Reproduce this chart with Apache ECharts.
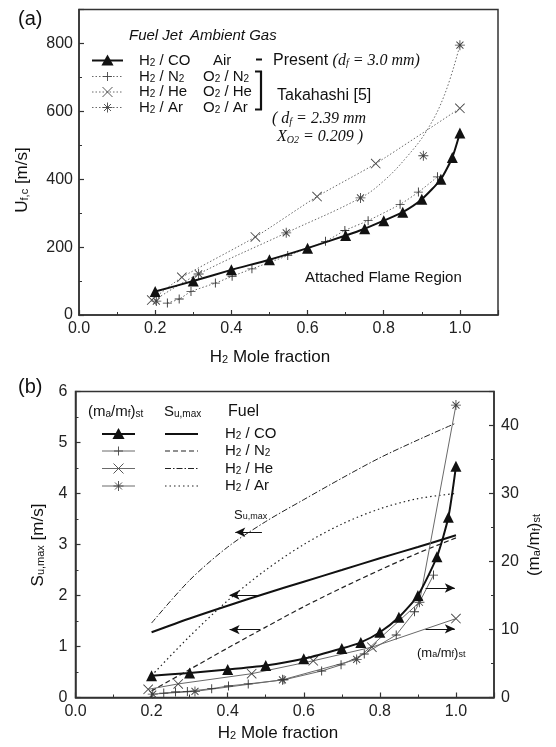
<!DOCTYPE html>
<html><head><meta charset="utf-8">
<script src="https://cdn.jsdelivr.net/npm/echarts@6/dist/echarts.min.js"></script>
<style>html,body{margin:0;padding:0;background:#fff}#c{width:556px;height:747px}</style>
</head><body><div id="c"></div>
<script>
// ---------- Panel (a): flame-base velocity U_f,c [m/s] ----------
const xCO  = [0.2,0.3,0.4,0.5,0.6,0.7,0.75,0.8,0.85,0.9,0.95,0.98,1.0];
const ufcCO = [69,100,133,163,197,234,254,278,303,341,400,464,536];
const xN2  = [0.232,0.263,0.294,0.358,0.402,0.454,0.548,0.647,0.698,0.759,0.843,0.891,0.941];
const ufcN2 = [35,47,69,94,114,136,175,217,249,278,326,362,407];
const xHe  = [0.191,0.27,0.463,0.625,0.779,1.0];
const ufcHe = [44,111,230,349,446,609];
const xAr  = [0.203,0.314,0.544,0.739,0.904,1.0];
const ufcAr = [41,121,242,345,469,795];
const xArFit = [0.2,0.314,0.544,0.739,0.80,0.86,0.914,0.96,1.0];
const ufcArFit = [45,121,242,345,395,465,545,650,795];

// ---------- Panel (b) ----------
const xSu  = [0.2,0.3,0.4,0.5,0.6,0.7,0.8,0.9,1.0];
const suCO = [1.28,1.55,1.80,2.04,2.27,2.50,2.73,2.95,3.18];
const suN2 = [0.13,0.55,0.97,1.38,1.78,2.15,2.50,2.83,3.13];
const suHe = [1.46,2.30,2.95,3.45,3.88,4.30,4.70,5.05,5.38];
const suAr = [0.43,1.20,1.90,2.50,3.00,3.40,3.70,3.90,4.00];
const mrCO = [3.2,3.6,4.1,4.7,5.7,7.2,8.1,9.6,11.8,15.0,20.7,26.5,34.0];
const mrN2 = [0.65,0.8,0.9,1.3,1.7,2.0,2.6,3.9,4.8,6.4,9.2,12.6,18.0];
const mrHe = [1.2,2.0,3.5,5.4,7.4,11.6];
const mrAr = [0.5,0.9,2.6,5.6,14.0,43.0];

const zip = (a,b)=>a.map((v,i)=>[v,b[i]]);

// symbol paths built from thin bars
function bars(segs,t){
  let p='';
  segs.forEach(([x1,y1,x2,y2])=>{
    const dx=x2-x1, dy=y2-y1, L=Math.hypot(dx,dy), nx=-dy/L*t/2, ny=dx/L*t/2;
    p+=`M${(x1+nx).toFixed(3)},${(y1+ny).toFixed(3)}L${(x2+nx).toFixed(3)},${(y2+ny).toFixed(3)}L${(x2-nx).toFixed(3)},${(y2-ny).toFixed(3)}L${(x1-nx).toFixed(3)},${(y1-ny).toFixed(3)}Z`;
  });
  return p;
}
const SEG_PLUS=[[5,0,5,10],[0,5,10,5]];
const SEG_CROSS=[[0,0,10,10],[10,0,0,10]];
const SEG_STAR=[[5,0,5,10],[0,5,10,5],[1.5,1.5,8.5,8.5],[8.5,1.5,1.5,8.5]];
const PLUS='path://'+bars(SEG_PLUS,1), CROSS='path://'+bars(SEG_CROSS,0.9), STAR='path://'+bars(SEG_STAR,0.9);

const FONT='Liberation Sans, Arial, sans-serif';
const SERIF='Liberation Serif, Times New Roman, serif';
const AX='#333', GR='#6a6a6a';

const chart = echarts.init(document.getElementById('c'), null, {renderer:'canvas'});

function xAxisCfg(gi){
  return {gridIndex:gi, type:'value', min:0, max:1.1, interval:0.2,
    axisLine:{show:true,lineStyle:{color:AX,width:1.5}},
    axisTick:{show:true,inside:true,length:5,lineStyle:{color:AX,width:1.2}},
    minorTick:{show:true,splitNumber:2,length:3,lineStyle:{color:AX,width:1}},
    splitLine:{show:false},
    axisLabel:{fontSize:16,fontFamily:FONT,color:'#222',margin:6,showMaxLabel:false,
      formatter:v=>v.toFixed(1)}};
}

const arrowLine=(pts,atEnd)=>({
  silent:true, animation:false,
  symbol: atEnd?['none','arrow']:['arrow','none'], symbolSize:[7,10],
  label:{show:false}, lineStyle:{color:'#111',width:1,type:'solid'},
  data: pts.map(p=>[{coord:[p[0],p[2]]},{coord:[p[1],p[2]]}])
});

const series = [
  // panel (a)
  {type:'line', xAxisIndex:0, yAxisIndex:0, data:zip(xArFit,ufcArFit), smooth:0.4, showSymbol:false,
   lineStyle:{color:GR,width:1,type:[1.5,2]}, z:2},
  {type:'line', xAxisIndex:0, yAxisIndex:0, data:zip(xAr,ufcAr), symbol:STAR, symbolSize:10,
   lineStyle:{width:0}, itemStyle:{color:'#444'}, z:3},
  {type:'line', xAxisIndex:0, yAxisIndex:0, data:zip(xHe,ufcHe), symbol:CROSS, symbolSize:10, smooth:0.2,
   lineStyle:{color:GR,width:1,type:[1.5,2]}, itemStyle:{color:'#444'}, z:3},
  {type:'line', xAxisIndex:0, yAxisIndex:0, data:zip(xN2,ufcN2), symbol:PLUS, symbolSize:9, smooth:0.2,
   lineStyle:{color:GR,width:1,type:[1.5,2]}, itemStyle:{color:'#333'}, z:3},
  {type:'line', xAxisIndex:0, yAxisIndex:0, data:zip(xCO,ufcCO), symbol:'triangle', symbolSize:11, smooth:0.2,
   lineStyle:{color:'#111',width:2}, itemStyle:{color:'#111'}, z:5},
  // panel (b) Su,max (left axis)
  {type:'line', xAxisIndex:1, yAxisIndex:1, data:zip(xSu,suHe), showSymbol:false, smooth:0.3,
   lineStyle:{color:'#222',width:1,type:[6,2,1.5,2]}, z:2},
  {type:'line', xAxisIndex:1, yAxisIndex:1, data:zip(xSu,suAr), showSymbol:false, smooth:0.3,
   lineStyle:{color:'#222',width:1.2,type:[1.5,3]}, z:2},
  {type:'line', xAxisIndex:1, yAxisIndex:1, data:zip(xSu,suN2), showSymbol:false, smooth:0.3,
   lineStyle:{color:'#222',width:1.2,type:[5,3]}, z:2,
   markLine: arrowLine([[0.42,0.49,3.24],[0.405,0.485,2.01],[0.405,0.485,1.33]],false)},
  {type:'line', xAxisIndex:1, yAxisIndex:1, data:zip(xSu,suCO), showSymbol:false, smooth:0.3,
   lineStyle:{color:'#111',width:2}, z:3},
  // panel (b) (ma/mf)st (right axis)
  {type:'line', xAxisIndex:1, yAxisIndex:2, data:zip(xAr,mrAr), symbol:STAR, symbolSize:10,
   lineStyle:{color:GR,width:1}, itemStyle:{color:'#444'}, z:3,
   markLine: arrowLine([[0.92,0.997,16.1],[0.92,0.997,10.1]],true)},
  {type:'line', xAxisIndex:1, yAxisIndex:2, data:zip(xHe,mrHe), symbol:CROSS, symbolSize:10,
   lineStyle:{color:GR,width:1}, itemStyle:{color:'#444'}, z:3},
  {type:'line', xAxisIndex:1, yAxisIndex:2, data:zip(xN2,mrN2), symbol:PLUS, symbolSize:9,
   lineStyle:{color:GR,width:1}, itemStyle:{color:'#333'}, z:3},
  {type:'line', xAxisIndex:1, yAxisIndex:2, data:zip(xCO,mrCO), symbol:'triangle', symbolSize:11, smooth:0.2,
   lineStyle:{color:'#111',width:2}, itemStyle:{color:'#111'}, z:5}
];

// ---------- graphic helpers (legends, titles, notes) ----------
const G=[];
function txt(x,y,text,opt){
  opt=opt||{};
  const fs=opt.fs||15;
  const it=opt.it?'italic':'normal';
  G.push({type:'text',x:x,y:y,rotation:opt.rot||0,z:10,style:{
    text:text, fill:'#111', align:opt.align||'left', verticalAlign:'middle',
    fontSize:fs, fontFamily:opt.ff||FONT, fontStyle:it,
    rich:{a:{fontSize:fs,fontFamily:opt.ff||FONT,fontStyle:it},
          s:{fontSize:opt.sfs||Math.round(fs*0.68),fontFamily:opt.ff||FONT,fontStyle:it,verticalAlign:'bottom'},
          i:{fontSize:fs,fontFamily:SERIF,fontStyle:'italic'},
          is:{fontSize:Math.round(fs*0.6),fontFamily:SERIF,fontStyle:'italic',verticalAlign:'bottom'}}
  }});
}
function seg(x1,y1,x2,y2,w,dash,col){
  G.push({type:'line',z:10,shape:{x1:x1,y1:y1,x2:x2,y2:y2},style:{stroke:col||'#111',lineWidth:w||1,lineDash:dash||null}});
}
function sym(kind,x,y,s,col){
  if(kind==='tri'){
    G.push({type:'polygon',z:11,shape:{points:[[x,y-s*0.55],[x-s*0.55,y+s*0.45],[x+s*0.55,y+s*0.45]]},style:{fill:'#111'}});
  } else {
    const segs = kind==='plus'?SEG_PLUS:kind==='cross'?SEG_CROSS:SEG_STAR;
    segs.forEach(([a,b,c,d])=>{
      G.push({type:'line',z:11,shape:{x1:x-s/2+a*s/10,y1:y-s/2+b*s/10,x2:x-s/2+c*s/10,y2:y-s/2+d*s/10},
        style:{stroke:col||'#444',lineWidth:0.9}});
    });
  }
}

// panel labels
txt(18,19,'(a)',{fs:20});
txt(18,387,'(b)',{fs:20});

// panel (a) legend
txt(129,36,'Fuel Jet',{it:true,fs:15});
txt(190,36,'Ambient Gas',{it:true,fs:15});
const rowsA=[60.5,76.5,92,107.5];
seg(92,rowsA[0],123,rowsA[0],2); sym('tri',107.5,rowsA[0],11);
[['plus',rowsA[1]],['cross',rowsA[2]],['star',rowsA[3]]].forEach(([k,y])=>{
  seg(92,y,123,y,1,[1.5,2],GR); sym(k,107.5,y,k==='plus'?9:10);
});
txt(139,rowsA[0],'{a|H}{s|2}{a| / CO}');
txt(139,rowsA[1],'{a|H}{s|2}{a| / N}{s|2}');
txt(139,rowsA[2],'{a|H}{s|2}{a| / He}');
txt(139,rowsA[3],'{a|H}{s|2}{a| / Ar}');
txt(213,rowsA[0],'Air');
txt(203,rowsA[1],'{a|O}{s|2}{a| / N}{s|2}');
txt(203,rowsA[2],'{a|O}{s|2}{a| / He}');
txt(203,rowsA[3],'{a|O}{s|2}{a| / Ar}');
seg(256,rowsA[0]-1,262,rowsA[0]-1,2);
txt(273,rowsA[0],'{a|Present }{i|(d}{is|f}{i| = 3.0 mm)}',{fs:16});
// bracket
seg(261,71,261,110,2.2); seg(255,71.5,262,71.5,2); seg(255,109.5,262,109.5,2);
txt(277,96,'Takahashi [5]',{fs:16});
txt(272,119,'{i|( d}{is|f}{i| = 2.39 mm}',{fs:16});
txt(277,137,'{i|X}{is|O2}{i| = 0.209 )}',{fs:16});
txt(305,278,'Attached Flame Region',{fs:15});

// axis titles panel (a)
txt(22,180,'{a|U}{s|f,c}{a| [m/s]}',{fs:17,rot:Math.PI/2,align:'center',sfs:11});
txt(270,357,'{a|H}{s|2}{a| Mole fraction}',{fs:17,align:'center',sfs:11});

// panel (b) legend
txt(88,412,'{a|(m}{s|a}{a|/m}{s|f}{a|)}{s|st}',{fs:15});
txt(164,412,'{a|S}{s|u,max}',{fs:15});
txt(228,412,'Fuel',{fs:16});
const rowsB=[434,451,468.5,486];
seg(102,rowsB[0],135,rowsB[0],2); sym('tri',118.5,rowsB[0],11);
[['plus',rowsB[1]],['cross',rowsB[2]],['star',rowsB[3]]].forEach(([k,y])=>{
  seg(102,y,135,y,1,null,GR); sym(k,118.5,y,k==='plus'?9:10);
});
seg(165,rowsB[0],198,rowsB[0],2);
seg(165,rowsB[1],198,rowsB[1],1.2,[5,3],'#222');
seg(165,rowsB[2],198,rowsB[2],1,[6,2,1.5,2],'#222');
seg(165,rowsB[3],198,rowsB[3],1.2,[1.5,3],'#222');
txt(225,rowsB[0],'{a|H}{s|2}{a| / CO}');
txt(225,rowsB[1],'{a|H}{s|2}{a| / N}{s|2}');
txt(225,rowsB[2],'{a|H}{s|2}{a| / He}');
txt(225,rowsB[3],'{a|H}{s|2}{a| / Ar}');
txt(234,515,'{a|S}{s|u,max}',{fs:13,sfs:9});
txt(417,653,'{a|(m}{s|a}{a|/m}{s|f}{a|)}{s|st}',{fs:13,sfs:9});

// axis titles panel (b)
txt(38,545,'{a|S}{s|u,max}{a| [m/s]}',{fs:17,rot:Math.PI/2,align:'center',sfs:11});
txt(534,545,'{a|(m}{s|a}{a|/m}{s|f}{a|)}{s|st}',{fs:17,rot:Math.PI/2,align:'center',sfs:11});
txt(278,733,'{a|H}{s|2}{a| Mole fraction}',{fs:17,align:'center',sfs:11});

const option = {
  animation:false,
  backgroundColor:'#fff',
  grid:[
    {left:79,right:58,top:9.5,bottom:432,show:true,borderColor:AX,borderWidth:1.5,backgroundColor:'transparent'},
    {left:75.5,right:62,top:391.5,bottom:49.5,show:true,borderColor:AX,borderWidth:1.5,backgroundColor:'transparent'}
  ],
  xAxis:[xAxisCfg(0),xAxisCfg(1)],
  yAxis:[
    {gridIndex:0,type:'value',min:0,max:900,interval:200,
     axisLine:{show:true,lineStyle:{color:AX,width:1.5}},
     axisTick:{show:true,inside:true,length:5,lineStyle:{color:AX,width:1.2}},
     minorTick:{show:true,splitNumber:2,length:3,lineStyle:{color:AX,width:1}},
     splitLine:{show:false},
     axisLabel:{fontSize:16,fontFamily:FONT,color:'#222',margin:6,showMaxLabel:false}},
    {gridIndex:1,type:'value',min:0,max:6,interval:1,position:'left',
     axisLine:{show:true,lineStyle:{color:AX,width:1.5}},
     axisTick:{show:true,inside:true,length:5,lineStyle:{color:AX,width:1.2}},
     minorTick:{show:true,splitNumber:2,length:3,lineStyle:{color:AX,width:1}},
     splitLine:{show:false},
     axisLabel:{fontSize:16,fontFamily:FONT,color:'#222',margin:8}},
    {gridIndex:1,type:'value',min:0,max:45,interval:10,position:'right',
     axisLine:{show:true,lineStyle:{color:AX,width:1.5}},
     axisTick:{show:true,inside:true,length:5,lineStyle:{color:AX,width:1.2}},
     minorTick:{show:true,splitNumber:2,length:3,lineStyle:{color:AX,width:1}},
     splitLine:{show:false},
     axisLabel:{fontSize:16,fontFamily:FONT,color:'#222',margin:7,showMaxLabel:false}}
  ],
  series: series,
  graphic: G
};
chart.setOption(option);
</script></body></html>
